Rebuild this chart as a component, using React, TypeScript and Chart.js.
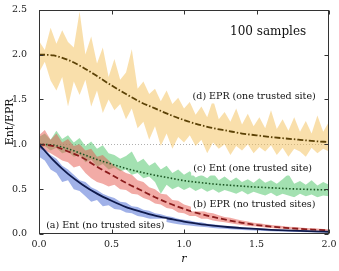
import React, { useEffect, useRef } from 'react';
import { Chart, registerables } from 'chart.js';

Chart.register(...registerables);

// ---------- data ----------
const rBand = [0, 0.04, 0.08, 0.12, 0.16, 0.2, 0.24, 0.28, 0.32, 0.36, 0.4, 0.44, 0.48, 0.52, 0.56, 0.6, 0.64, 0.68, 0.72, 0.76, 0.8, 0.84, 0.88, 0.92, 0.96, 1.0, 1.04, 1.08, 1.12, 1.16, 1.2, 1.24, 1.28, 1.32, 1.36, 1.4, 1.44, 1.48, 1.52, 1.56, 1.6, 1.64, 1.68, 1.72, 1.76, 1.8, 1.84, 1.88, 1.92, 1.96, 2.0];
const rMean = [0, 0.1, 0.2, 0.3, 0.4, 0.5, 0.6, 0.7, 0.8, 0.9, 1.0, 1.1, 1.2, 1.3, 1.4, 1.5, 1.6, 1.7, 1.8, 1.9, 2.0];

// (a) Ent (no trusted sites)
const entNoTrustedMean = [1.0, 0.82, 0.67, 0.55, 0.45, 0.37, 0.3, 0.25, 0.205, 0.17, 0.137, 0.113, 0.094, 0.078, 0.066, 0.056, 0.047, 0.04, 0.034, 0.029, 0.025];
const entNoTrustedUpper = [1.0, 0.95, 0.88, 0.84, 0.76, 0.72, 0.66, 0.6, 0.58, 0.52, 0.49, 0.45, 0.42, 0.4, 0.36, 0.35, 0.31, 0.3, 0.27, 0.26, 0.23, 0.22, 0.2, 0.19, 0.17, 0.16, 0.15, 0.135, 0.13, 0.115, 0.11, 0.1, 0.092, 0.088, 0.08, 0.075, 0.07, 0.066, 0.06, 0.058, 0.054, 0.05, 0.048, 0.045, 0.042, 0.04, 0.038, 0.036, 0.034, 0.032, 0.03];
const entNoTrustedLower = [0.86, 0.82, 0.72, 0.68, 0.58, 0.6, 0.5, 0.48, 0.42, 0.36, 0.38, 0.31, 0.32, 0.28, 0.27, 0.24, 0.23, 0.2, 0.19, 0.17, 0.16, 0.14, 0.135, 0.12, 0.11, 0.1, 0.095, 0.085, 0.08, 0.075, 0.068, 0.062, 0.058, 0.053, 0.049, 0.045, 0.042, 0.039, 0.036, 0.034, 0.031, 0.029, 0.027, 0.025, 0.023, 0.022, 0.02, 0.019, 0.018, 0.017, 0.016];

// (b) EPR (no trusted sites)
const eprNoTrustedMean = [1.0, 0.98, 0.92, 0.85, 0.75, 0.66, 0.57, 0.49, 0.41, 0.34, 0.28, 0.23, 0.19, 0.155, 0.125, 0.1, 0.083, 0.069, 0.057, 0.048, 0.04];
const eprNoTrustedUpper = [1.1, 1.16, 1.05, 1.12, 1.02, 1.06, 0.98, 1.0, 0.93, 0.95, 0.86, 0.88, 0.82, 0.76, 0.72, 0.68, 0.66, 0.6, 0.58, 0.52, 0.5, 0.45, 0.44, 0.38, 0.37, 0.33, 0.31, 0.28, 0.27, 0.24, 0.23, 0.21, 0.19, 0.18, 0.165, 0.15, 0.14, 0.125, 0.12, 0.11, 0.1, 0.095, 0.09, 0.082, 0.078, 0.072, 0.068, 0.064, 0.06, 0.056, 0.052];
const eprNoTrustedLower = [0.95, 0.93, 0.9, 0.86, 0.82, 0.8, 0.74, 0.76, 0.68, 0.62, 0.58, 0.56, 0.53, 0.55, 0.5, 0.49, 0.45, 0.44, 0.4, 0.38, 0.34, 0.33, 0.29, 0.28, 0.24, 0.23, 0.2, 0.2, 0.17, 0.17, 0.15, 0.14, 0.13, 0.12, 0.11, 0.1, 0.09, 0.085, 0.08, 0.072, 0.068, 0.062, 0.058, 0.054, 0.05, 0.046, 0.043, 0.04, 0.037, 0.034, 0.03];

// (c) Ent (one trusted site)
const entOneTrustedMean = [1.0, 0.99, 0.95, 0.89, 0.83, 0.78, 0.73, 0.69, 0.655, 0.625, 0.595, 0.575, 0.558, 0.545, 0.533, 0.523, 0.515, 0.507, 0.5, 0.495, 0.49];
const entOneTrustedUpper = [1.08, 1.12, 1.05, 1.15, 1.06, 1.1, 1.02, 1.07, 0.98, 1.03, 0.95, 0.99, 0.9, 0.88, 0.84, 0.87, 0.92, 0.8, 0.84, 0.76, 0.8, 0.72, 0.76, 0.68, 0.72, 0.66, 0.7, 0.63, 0.66, 0.62, 0.68, 0.6, 0.64, 0.59, 0.63, 0.58, 0.61, 0.57, 0.62, 0.57, 0.6, 0.56, 0.61, 0.67, 0.56, 0.59, 0.55, 0.6, 0.54, 0.58, 0.55];
const entOneTrustedLower = [0.95, 0.98, 0.93, 0.96, 0.9, 0.92, 0.86, 0.88, 0.8, 0.83, 0.75, 0.78, 0.72, 0.74, 0.7, 0.72, 0.66, 0.68, 0.62, 0.64, 0.58, 0.45, 0.55, 0.5, 0.53, 0.49, 0.52, 0.48, 0.51, 0.47, 0.5, 0.46, 0.49, 0.47, 0.45, 0.48, 0.44, 0.47, 0.45, 0.43, 0.46, 0.42, 0.45, 0.43, 0.41, 0.45, 0.42, 0.44, 0.41, 0.43, 0.42];

// (d) EPR (one trusted site)
const eprOneTrustedMean = [2.0, 1.99, 1.94, 1.86, 1.76, 1.656, 1.56, 1.47, 1.4, 1.33, 1.27, 1.22, 1.18, 1.15, 1.12, 1.1, 1.08, 1.065, 1.05, 1.035, 1.025];
const eprOneTrustedUpper = [2.15, 2.05, 2.3, 2.12, 2.27, 2.14, 2.08, 2.48, 2.0, 2.2, 1.9, 2.08, 1.75, 1.95, 1.72, 1.8, 2.06, 1.62, 1.7, 1.56, 1.62, 1.48, 1.6, 1.45, 1.52, 1.4, 1.47, 1.33, 1.42, 1.3, 1.5, 1.28, 1.36, 1.25, 1.4, 1.22, 1.34, 1.2, 1.3, 1.18, 1.38, 1.17, 1.28, 1.15, 1.3, 1.14, 1.26, 1.12, 1.32, 1.14, 1.25];
const eprOneTrustedLower = [1.8, 1.92, 1.71, 1.6, 1.75, 1.42, 1.7, 1.55, 1.72, 1.42, 1.6, 1.35, 1.5, 1.38, 1.45, 1.28, 1.4, 1.18, 1.25, 1.05, 1.2, 0.98, 1.12, 0.95, 1.08, 1.02, 1.1, 0.98, 1.05, 0.9, 1.02, 0.95, 1.0, 0.88, 0.98, 0.93, 1.0, 0.9, 0.97, 0.92, 0.99, 0.88, 0.96, 0.86, 0.95, 0.92, 0.86, 0.96, 0.9, 0.95, 0.92];

const xTickLabels = ['0.0', '0.5', '1.0', '1.5', '2.0'];
const yTickLabels = ['0.0', '0.5', '1.0', '1.5', '2.0', '2.5'];
const xTickValues = [0, 0.5, 1.0, 1.5, 2.0];
const yTickValues = [0, 0.5, 1.0, 1.5, 2.0, 2.5];

const seriesNames = [
  '(a) Ent (no trusted sites)',
  '(b) EPR (no trusted sites)',
  '(c) Ent (one trusted site)',
  '(d) EPR (one trusted site)',
];
const noteText = '100 samples';
const xTitle = 'r';
const yTitle = 'Ent/EPR';

// ---------- styles / positions ----------
const SERIF = '"DejaVu Serif", serif';
const labelAnchors = [
  { x: 0.4575, y: 0.092 },
  { x: 1.484, y: 0.33 },
  { x: 1.473, y: 0.73 },
  { x: 1.484, y: 1.533 },
];
const noteAnchor = { x: 1.58, y: 2.248 };

const toPts = (xs: number[], ys: number[]) => xs.map((x, i) => ({ x, y: ys[i] }));

const overlayPlugin = {
  id: 'overlay',
  beforeDatasetsDraw(chart: any) {
    const { ctx, chartArea, scales } = chart;
    const y1 = Math.round(scales.y.getPixelForValue(1.0)) + 0.5;
    ctx.save();
    ctx.strokeStyle = '#9a9a9a';
    ctx.lineWidth = 0.8;
    ctx.setLineDash([1, 2]);
    ctx.beginPath();
    ctx.moveTo(chartArea.left, y1);
    ctx.lineTo(chartArea.right, y1);
    ctx.stroke();
    ctx.restore();
  },
  afterDatasetsDraw(chart: any) {
    const { ctx, chartArea, scales } = chart;
    ctx.save();
    ctx.font = '9.5px ' + SERIF;
    ctx.textAlign = 'center';
    ctx.textBaseline = 'middle';
    seriesNames.forEach((name, i) => {
      const px = scales.x.getPixelForValue(labelAnchors[i].x);
      const py = scales.y.getPixelForValue(labelAnchors[i].y);
      const w = ctx.measureText(name).width;
      ctx.fillStyle = '#ffffff';
      ctx.fillRect(px - w / 2 - 2, py - 7, w + 4, 14);
      ctx.fillStyle = '#111111';
      ctx.fillText(name, px, py);
    });
    ctx.font = '12px ' + SERIF;
    ctx.fillStyle = '#111111';
    ctx.fillText(
      noteText,
      scales.x.getPixelForValue(noteAnchor.x),
      scales.y.getPixelForValue(noteAnchor.y)
    );
    const l = Math.round(chartArea.left) + 0.5;
    const r = Math.round(chartArea.right) - 0.5;
    const t = Math.round(chartArea.top) + 0.5;
    const b = Math.round(chartArea.bottom) - 0.5;
    ctx.strokeStyle = '#333333';
    ctx.lineWidth = 1;
    ctx.setLineDash([]);
    ctx.strokeRect(l, t, r - l, b - t);
    const tl = 4;
    ctx.beginPath();
    xTickValues.forEach((v) => {
      const px = Math.round(scales.x.getPixelForValue(v)) + 0.5;
      ctx.moveTo(px, b);
      ctx.lineTo(px, b - tl);
      ctx.moveTo(px, t);
      ctx.lineTo(px, t + tl);
    });
    yTickValues.forEach((v) => {
      const py = Math.round(scales.y.getPixelForValue(v)) + 0.5;
      ctx.moveTo(l, py);
      ctx.lineTo(l + tl, py);
      ctx.moveTo(r, py);
      ctx.lineTo(r - tl, py);
    });
    ctx.stroke();
    ctx.fillStyle = '#111111';
    ctx.font = 'italic 11px ' + SERIF;
    ctx.textAlign = 'center';
    ctx.textBaseline = 'middle';
    ctx.fillText(xTitle, (chartArea.left + chartArea.right) / 2, 259);
    ctx.translate(10, (chartArea.top + chartArea.bottom) / 2);
    ctx.rotate(-Math.PI / 2);
    ctx.font = '11px ' + SERIF;
    ctx.fillText(yTitle, 0, 0);
    ctx.restore();
  },
};

export default function App() {
  const ref = useRef<HTMLCanvasElement | null>(null);
  useEffect(() => {
    document.body.style.margin = '0';
    const canvas = ref.current;
    if (!canvas) return;
    const band = (upper: number[], lower: number[], color: string, order: number) => [
      {
        label: 'upper',
        data: toPts(rBand, upper),
        borderWidth: 0,
        pointRadius: 0,
        backgroundColor: color,
        fill: '+1',
        tension: 0,
        order,
      },
      {
        label: 'lower',
        data: toPts(rBand, lower),
        borderWidth: 0,
        pointRadius: 0,
        fill: false,
        tension: 0,
        order,
      },
    ];
    const meanLine = (ys: number[], color: string, dash: number[], width: number) => ({
      label: 'mean',
      data: toPts(rMean, ys),
      borderColor: color,
      borderWidth: width,
      borderDash: dash,
      pointRadius: 0,
      fill: false,
      cubicInterpolationMode: 'monotone' as const,
      order: 0,
    });
    const chart = new Chart(canvas, {
      type: 'line',
      data: {
        datasets: [
          meanLine(entNoTrustedMean, '#0f1a4c', [], 1.8),
          meanLine(eprNoTrustedMean, '#8b1c1c', [6, 3], 1.8),
          meanLine(entOneTrustedMean, '#1a5522', [1.5, 2], 1.6),
          meanLine(eprOneTrustedMean, '#5c4206', [6, 2, 1.5, 2], 1.8),
          ...band(entNoTrustedUpper, entNoTrustedLower, 'rgba(65,100,210,0.5)', 1),
          ...band(eprNoTrustedUpper, eprNoTrustedLower, 'rgba(230,87,77,0.5)', 2),
          ...band(entOneTrustedUpper, entOneTrustedLower, 'rgba(72,196,100,0.5)', 3),
          ...band(eprOneTrustedUpper, eprOneTrustedLower, 'rgba(243,191,87,0.5)', 4),
        ] as any,
      },
      options: {
        animation: false,
        responsive: true,
        maintainAspectRatio: false,
        layout: { padding: { left: 0, top: 9, right: 10, bottom: 0 } },
        plugins: { legend: { display: false }, tooltip: { enabled: false } },
        scales: {
          x: {
            type: 'linear',
            min: 0,
            max: 2,
            afterFit: (s: any) => { s.height = 37; },
            afterBuildTicks: (s: any) => { s.ticks = xTickValues.map((v) => ({ value: v })); },
            grid: { display: false },
            border: { display: false },
            ticks: {
              padding: -3,
              color: '#222',
              font: { family: SERIF, size: 9.5 },
              maxRotation: 0,
              callback: (_v: any, i: number) => xTickLabels[i],
            },
          },
          y: {
            type: 'linear',
            min: 0,
            max: 2.5,
            afterFit: (s: any) => { s.width = 39; },
            afterBuildTicks: (s: any) => { s.ticks = yTickValues.map((v) => ({ value: v })); },
            grid: { display: false },
            border: { display: false },
            ticks: {
              padding: 4,
              color: '#222',
              font: { family: SERIF, size: 9.5 },
              callback: (_v: any, i: number) => yTickLabels[i],
            },
          },
        },
      },
      plugins: [overlayPlugin],
    });
    return () => chart.destroy();
  }, []);
  return (
    <div style={{ position: 'fixed', left: 0, top: 0, width: 339, height: 271, background: '#fff' }}>
      <canvas ref={ref} />
    </div>
  );
}
